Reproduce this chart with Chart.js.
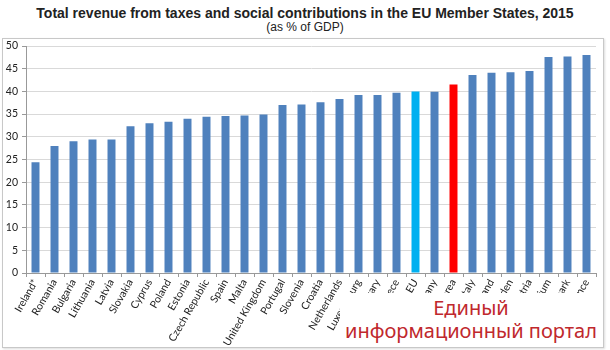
<!DOCTYPE html>
<html><head><meta charset="utf-8">
<script src="https://cdn.jsdelivr.net/npm/chart.js@4"></script>
<style>
html,body{margin:0;padding:0;background:#fff;}
#wrap{position:relative;width:610px;height:350px;overflow:hidden;}
#t1{position:absolute;left:0;width:610px;top:5px;text-align:center;font:bold 14px "Liberation Sans",Arial,sans-serif;color:#222;}
#t2{position:absolute;left:0;width:610px;top:20px;text-align:center;font:12px "Liberation Sans",Arial,sans-serif;color:#222;}
#box{position:absolute;left:2px;top:38px;width:600px;height:308px;border:1px solid #c8c8c8;box-shadow:1px 1px 2px #ddd;}
canvas{position:absolute;left:0;top:0;}
#wm{position:absolute;left:340px;top:293px;width:262px;height:53px;padding-top:3px;box-sizing:border-box;background:#fff;font:20px "Noto Sans","DejaVu Sans",sans-serif;color:#c0282d;text-align:center;line-height:23px;}
</style></head>
<body><div id="wrap">
<div id="t1">Total revenue from taxes and social contributions in the EU Member States, 2015</div>
<div id="t2">(as % of GDP)</div>
<div id="box"></div>
<canvas id="c" width="610" height="350"></canvas>
<div id="wm">Единый<br>информационный портал</div>
</div>
<script>
const categories = ["Ireland*","Romania","Bulgaria","Lithuania","Latvia","Slovakia","Cyprus","Poland","Estonia","Czech Republic","Spain","Malta","United Kingdom","Portugal","Slovenia","Croatia","Netherlands","Luxembourg","Hungary","Greece","EU","Germany","Euro area","Italy","Finland","Sweden","Austria","Belgium","Denmark","France"];
const values = [24.4,28.0,29.0,29.4,29.4,32.3,33.0,33.3,34.0,34.4,34.6,34.7,34.9,37.0,37.1,37.6,38.3,39.2,39.2,39.7,40.0,39.9,41.5,43.6,44.1,44.2,44.5,47.6,47.7,48.0];
const yTicks = [0,5,10,15,20,25,30,35,40,45,50];
const highlight = {"EU":"#00b0f0","Euro area":"#ff0000"};
const colors = categories.map(c => highlight[c] || "#4f81bd");

new Chart(document.getElementById('c'), {
  type: 'bar',
  data: { labels: categories, datasets: [{ data: values, backgroundColor: colors, barPercentage: 0.84, categoryPercentage: 0.5 }] },
  options: {
    responsive: false, animation: false,
    layout: { padding: { top: 46, right: 14, left: 0, bottom: 0 } },
    plugins: { legend: { display: false }, tooltip: { enabled: false } },
    scales: {
      x: {
        offset: true,
        grid: { display: true, drawOnChartArea: false, offset: true, tickLength: 4, color: '#999' },
        border: { color: '#999' },
        ticks: { maxRotation: 60, minRotation: 60, autoSkip: false, padding: 0, color: '#222', font: { family: 'Lato, "Open Sans", sans-serif', size: 10.5 } },
        afterFit: s => { s.height = 77; }
      },
      y: {
        min: 0, max: 50,
        afterBuildTicks: s => { s.ticks = yTicks.map(v => ({ value: v })); },
        grid: { color: '#d9d9d9', tickLength: 4, tickColor: '#999' },
        border: { color: '#999' },
        ticks: { padding: 4, color: '#222', font: { family: 'Lato, "Open Sans", sans-serif', size: 10.5 } },
        afterFit: s => { s.width = 26; }
      }
    }
  }
});
</script>
</body></html>
